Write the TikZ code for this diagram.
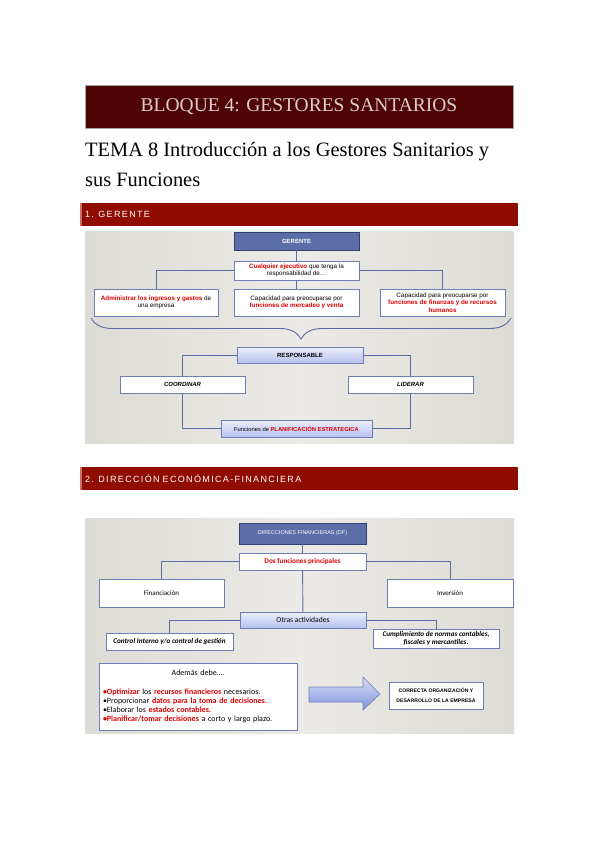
\documentclass[tikz,border=0pt]{standalone}
\usepackage{fontspec}
\setmainfont{Liberation Serif}
\newfontfamily\arial{Liberation Sans}
\newfontfamily\barfont[LetterSpace=15]{Liberation Sans}
\newfontfamily\calib{Carlito}
\usetikzlibrary{decorations.pathreplacing}
\definecolor{titlebg}{RGB}{78,4,4}
\definecolor{titletxt}{RGB}{222,204,204}
\definecolor{barred}{RGB}{145,12,0}
\definecolor{barlight}{RGB}{200,110,100}
\definecolor{bgmid}{RGB}{236,234,230}
\definecolor{bgside}{RGB}{221,219,213}
\definecolor{blueb}{RGB}{91,110,168}
\definecolor{bluedark}{RGB}{50,64,110}
\definecolor{boxline}{RGB}{110,125,180}
\definecolor{linec}{RGB}{92,108,160}
\definecolor{lbtop}{RGB}{236,238,252}
\definecolor{lbbot}{RGB}{184,193,238}
\definecolor{redt}{RGB}{220,0,0}
\definecolor{arrtop}{RGB}{214,221,246}
\definecolor{arrbot}{RGB}{128,148,220}
\newcommand{\rb}[1]{\textcolor{redt}{\textbf{#1}}}
\begin{document}
\begin{tikzpicture}[x=1pt,y=-1pt,
  wbox/.style={draw=boxline, fill=white, line width=0.8pt, inner sep=1pt, align=center, font=\arial\fontsize{6.3}{7.6}\selectfont},
  bbox/.style={draw=bluedark, fill=blueb, line width=0.8pt, inner sep=1pt, align=center, text=white},
  lbox/.style={draw=boxline, top color=lbtop, bottom color=lbbot, line width=0.8pt, inner sep=1pt, align=center},
  conn/.style={draw=linec, line width=0.9pt},
  secbar/.style={fill=barred, minimum height=23pt, text width=428pt, inner xsep=5pt, align=left, text=white, font=\barfont\fontsize{9}{10}\selectfont}]
\useasboundingbox (0,0) rectangle (599,848);
\fill[white] (0,0) rectangle (599,848);

% title
\node[fill=titlebg, draw=gray!70, line width=0.6pt, minimum width=428pt, minimum height=43pt, text=titletxt, font=\fontsize{19.5}{24}\selectfont] (tb) at (299,106.5) {BLOQUE 4: GESTORES SANTARIOS};
\node[anchor=base west, inner sep=0, font=\fontsize{20.4}{24}\selectfont] (tema1) at (85,157) {TEMA 8 Introducción a los Gestores Sanitarios y};
\node[anchor=base west, inner sep=0, font=\fontsize{20.4}{24}\selectfont] (tema2) at (85,186) {sus Funciones};

% section 1
\node[secbar] (s1) at (299,214) {1. GERENTE};
\fill[barlight] (80,202.5) rectangle (81.5,225.5);
\shade[left color=bgside, right color=bgside, middle color=bgmid] (85,231) rectangle (514,443);

\node[bbox, minimum width=125pt, minimum height=18pt, font=\arial\bfseries\fontsize{6}{7}\selectfont] (ger) at (296.5,241) {GERENTE};
\node[wbox, minimum width=125pt, minimum height=19pt] (cual) at (296.5,270.5) {\rb{Cualquier ejecutivo} que tenga la\\responsabilidad de…};
\node[wbox, minimum width=124pt, minimum height=27pt] (adm) at (156,302.5) {\rb{Administrar los ingresos y gastos} de\\una empresa};
\node[wbox, minimum width=125pt, minimum height=27pt] (mer) at (296.5,302.5) {Capacidad para preocuparse por\\\rb{funciones de mercadeo y venta}};
\node[wbox, minimum width=125pt, minimum height=27pt] (fin) at (442.5,302.5) {Capacidad para preocuparse por\\\rb{funciones de finanzas y de recursos}\\\rb{humanos}};
\draw[conn] (ger) -- (cual);
\draw[conn] (cual.west) -| (adm.north);
\draw[conn] (cual.east) -| (fin.north);
\draw[conn] (cual) -- (mer);

\coordinate (bl) at (91,318);
\coordinate (br) at (511,318);
\draw[conn, decorate, decoration={brace, mirror, amplitude=21pt}] (bl) -- (br);

\node[lbox, minimum width=126pt, minimum height=16pt, font=\arial\bfseries\fontsize{6}{7}\selectfont] (resp) at (300,355) {RESPONSABLE};
\node[wbox, minimum width=125pt, minimum height=17pt, font=\arial\bfseries\itshape\fontsize{6}{7}\selectfont] (coord) at (182.5,384.5) {COORDINAR};
\node[wbox, minimum width=125pt, minimum height=17pt, font=\arial\bfseries\itshape\fontsize{6}{7}\selectfont] (lid) at (410.5,384.5) {LIDERAR};
\node[lbox, minimum width=151pt, minimum height=17pt, font=\arial\fontsize{5.8}{7}\selectfont] (plan) at (296.5,428.5) {Funciones de \rb{PLANIFICACIÓN ESTRATEGICA}};
\draw[conn] (resp.west) -| (coord.north);
\draw[conn] (resp.east) -| (lid.north);
\draw[conn] (coord.south) |- (plan.west);
\draw[conn] (lid.south) |- (plan.east);

% section 2
\node[secbar] (s2) at (299,478.5) {2. DIRECCIÓN ECONÓMICA-FINANCIERA};
\fill[barlight] (80,467) rectangle (81.5,490);
\shade[left color=bgside, right color=bgside, middle color=bgmid] (85,518) rectangle (514,733);

\node[bbox, minimum width=127pt, minimum height=21pt, font=\arial\fontsize{5.5}{7}\selectfont] (df) at (302.5,533.5) {DIRECCIONES FINANCIERAS (DF)};
\node[wbox, minimum width=127pt, minimum height=17pt, font=\calib\bfseries\fontsize{7.2}{8}\selectfont, text=redt] (dos) at (302.5,561.5) {Dos funciones principales};
\node[wbox, minimum width=125pt, minimum height=28pt, font=\calib\fontsize{7}{8}\selectfont] (fnc) at (161.5,593) {Financiación};
\node[wbox, minimum width=126pt, minimum height=28pt, font=\calib\fontsize{7}{8}\selectfont] (inv) at (450,593) {Inversión};
\node[lbox, minimum width=126pt, minimum height=16pt, font=\calib\fontsize{7.6}{8}\selectfont] (otr) at (303,620) {Otras actividades};
\node[wbox, minimum width=127pt, minimum height=17pt, font=\calib\bfseries\itshape\fontsize{7.2}{8}\selectfont] (ctl) at (169.5,641.5) {Control Interno y/o control de gestión};
\node[wbox, minimum width=126pt, minimum height=19pt, font=\calib\bfseries\itshape\fontsize{7.2}{8.2}\selectfont] (cum) at (436,638.5) {Cumplimiento de normas contables,\\fiscales y mercantiles.};
\draw[conn] (df) -- (dos);
\draw[conn] (dos.west) -| (fnc.north);
\draw[conn] (dos.east) -| (inv.north);
\draw[conn] (dos) -- (otr);
\draw[conn] (otr.west) -| (ctl.north);
\draw[conn] (otr.east) -| (cum.north);

\node[wbox, minimum width=198pt, minimum height=67pt, text width=190pt, align=left, inner sep=3pt, font=\calib\fontsize{8}{9.3}\selectfont] (ade) at (198,696.5) {\makebox[190pt][c]{Además debe….}\\[9.5pt]
\rb{•Optimizar} los \rb{recursos financieros} necesarios.\\
•Proporcionar \rb{datos para la toma de decisiones.}\\
•Elaborar los \rb{estados contables.}\\
\rb{•Planificar/tomar decisiones} a corto y largo plazo.};
\shadedraw[top color=arrtop, bottom color=arrbot, draw=boxline, line width=0.6pt] (309,687) -- (363,687) -- (363,677) -- (380,694) -- (363,710) -- (363,702) -- (309,702) -- cycle;
\node[wbox, minimum width=94pt, minimum height=27pt, font=\arial\bfseries\fontsize{5.1}{10}\selectfont] (cor) at (436,695.5) {CORRECTA ORGANIZACIÓN Y\\DESARROLLO DE LA EMPRESA};
\end{tikzpicture}
\end{document}
